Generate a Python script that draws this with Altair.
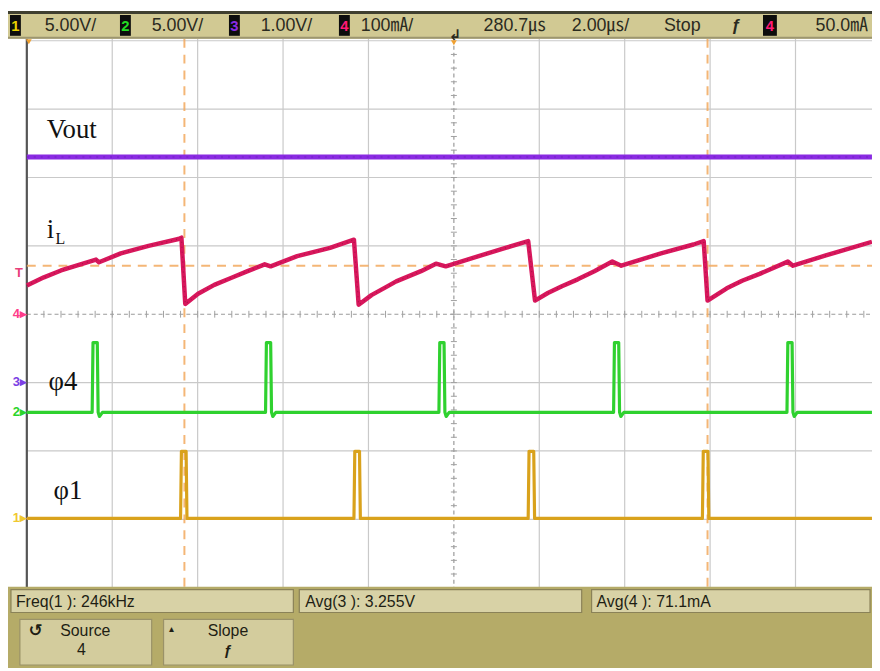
import altair as alt
import pandas as pd

# ---------------- data read from the scope screen ----------------
# time axis in microseconds (2.00 us/div), t = 0 at the left screen edge
vout_t = [0.0, 19.79]
vout_v = [3.30, 3.30]                       # channel 3, 1.00 V/div

il_t = [0.00, 0.40, 0.80, 1.20, 1.62, 1.69, 2.20, 2.85, 3.55, 3.62, 3.71,
        4.01, 4.39, 4.78, 5.17, 5.57, 5.71, 6.33, 7.10, 7.66, 7.77,
        8.07, 8.42, 8.65, 9.23, 9.58, 9.81, 10.58, 11.21, 11.74, 11.90,
        12.20, 12.53, 12.90, 13.29, 13.71, 13.92, 14.85, 15.61, 15.85, 15.94,
        16.39, 16.75, 17.16, 17.82, 17.94, 18.71, 19.79]
il_ma = [42, 54, 64, 72, 80, 76, 89, 100, 110, 112, 15,
         30, 43, 53, 63, 73, 70, 85, 97, 109, 14,
         28, 40, 48, 63, 74, 70, 85, 97, 107, 20,
         31, 41, 51, 63, 77, 71, 89, 102, 107, 20,
         38, 49, 59, 77, 71, 86, 106]          # channel 4, 100 mA/div

phi4_t = [0.0,
          1.53, 1.55, 1.65, 1.67, 1.70, 1.77,
          5.59, 5.61, 5.71, 5.73, 5.76, 5.83,
          9.65, 9.67, 9.77, 9.79, 9.82, 9.89,
          13.74, 13.76, 13.86, 13.88, 13.91, 13.98,
          17.80, 17.82, 17.92, 17.94, 17.97, 18.04,
          19.79]
phi4_v = [0,
          0, 5.1, 5.1, 0, -0.3, 0,
          0, 5.1, 5.1, 0, -0.3, 0,
          0, 5.1, 5.1, 0, -0.3, 0,
          0, 5.1, 5.1, 0, -0.3, 0,
          0, 5.1, 5.1, 0, -0.3, 0,
          0]                                 # channel 2, 5.00 V/div

phi1_t = [0.0, 3.60, 3.62, 3.73, 3.75, 7.66, 7.68, 7.79, 7.81,
          11.74, 11.76, 11.87, 11.89, 15.82, 15.84, 15.95, 15.97, 19.79]
phi1_v = [0, 0, 4.9, 4.9, 0, 0, 4.9, 4.9, 0,
          0, 4.9, 4.9, 0, 0, 4.9, 4.9, 0, 0]  # channel 1, 5.00 V/div

cursor_t = [3.69, 15.94]
cursor_il_ma = 71

ch_scale = {"1": 5.0, "2": 5.0, "3": 1.0, "4": 100.0}
ch_offset = {"1": -2.986, "2": -1.435, "3": -1.0, "4": 0.0}

header_labels = ["5.00V/", "5.00V/", "1.00V/", "100㎃/", "280.7㎲", "2.00㎲/", "Stop", "50.0㎃"]
footer_labels = ["Freq(1 ): 246kHz", "Avg(3 ): 3.255V", "Avg(4 ): 71.1mA"]

# ---------------- layout helpers (screen pixels -> scale units) ----------------
PX_US = 43.1
PX_DIV = 69.0
def tx(px):
    return (px - 27.0) / PX_US
def dv(py):
    return (314.0 - py) / PX_DIV

XS = alt.Scale(domain=[tx(8), tx(880)], nice=False, zero=False)
YS = alt.Scale(domain=[dv(671), dv(8)], nice=False, zero=False)

def enc_xy(**kw):
    e = {"x": alt.X("x:Q", scale=XS, axis=None), "y": alt.Y("y:Q", scale=YS, axis=None)}
    if "x2" in kw:
        e["x2"] = alt.X2("x2:Q")
    if "y2" in kw:
        e["y2"] = alt.Y2("y2:Q")
    return e

def rect_layer(rows, fill, stroke=None, sw=0, opacity=1.0):
    df = pd.DataFrame([{"x": tx(a), "x2": tx(b), "y": dv(c), "y2": dv(d)} for a, b, c, d in rows])
    kw = dict(fill=fill, opacity=opacity)
    if stroke:
        kw.update(stroke=stroke, strokeWidth=sw)
    return alt.Chart(df).mark_rect(**kw).encode(**enc_xy(x2=1, y2=1))

def text_layer(rows, color, size, font="Liberation Sans, Noto Sans CJK JP, sans-serif",
               align="left", baseline="middle", weight="normal"):
    df = pd.DataFrame([{"x": tx(a), "y": dv(b), "s": s} for s, a, b in rows])
    return alt.Chart(df).mark_text(color=color, fontSize=size, font=font, align=align,
                                   baseline=baseline, fontWeight=weight).encode(
        **enc_xy(), text="s:N")

def rule_layer(df, color, width=1.0, dash=None, opacity=1.0):
    kw = dict(color=color, strokeWidth=width, opacity=opacity)
    if dash:
        kw["strokeDash"] = dash
    return alt.Chart(df).mark_rule(**kw).encode(**enc_xy(x2=1, y2=1))

def trace(ts, vs, ch, color, width, dash=None, opacity=1.0):
    df = pd.DataFrame({"x": ts, "y": [ch_offset[ch] + v / ch_scale[ch] for v in vs], "o": range(len(ts))})
    kw = dict(color=color, strokeWidth=width, strokeJoin="round", opacity=opacity)
    if dash:
        kw["strokeDash"] = dash
    return alt.Chart(df).mark_line(**kw).encode(
        x=alt.X("x:Q", scale=XS, axis=None), y=alt.Y("y:Q", scale=YS, axis=None), order="o:Q")

layers = []

# ---------------- graticule ----------------
grid_t = [0, 2, 4, 6, 8, 12, 14, 16, 18]
grid_div = [-4, -3, -2, -1, 1, 2, 3, 4]
vg = pd.DataFrame({"x": grid_t, "x2": grid_t, "y": [dv(36)] * len(grid_t), "y2": [dv(590)] * len(grid_t)})
hg = pd.DataFrame({"x": [tx(27)] * len(grid_div), "x2": [tx(880)] * len(grid_div), "y": grid_div, "y2": grid_div})
layers.append(rule_layer(vg, "#c9c9c9", 1.2))
layers.append(rule_layer(hg, "#c9c9c9", 1.2))
center = pd.DataFrame({"x": [10, tx(27)], "x2": [10, tx(880)], "y": [dv(36), 0], "y2": [dv(590), 0]})
layers.append(rule_layer(center, "#9a9a9a", 1.2, dash=[4, 3]))
tk_t = [i * 0.4 for i in range(1, 50)]
tk_d = [i * 0.2 - 4 for i in range(1, 40)]
ticks = pd.DataFrame(
    [{"x": t, "x2": t, "y": -0.05, "y2": 0.05} for t in tk_t] +
    [{"x": 10 - 0.07, "x2": 10 + 0.07, "y": d, "y2": d} for d in tk_d])
layers.append(rule_layer(ticks, "#a0a0a0", 1.0))
border = pd.DataFrame({"x": [0], "x2": [0], "y": [dv(36)], "y2": [dv(590)]})
layers.append(rule_layer(border, "#555555", 2.2))

# cursors (orange dashed)
cur_v = pd.DataFrame({"x": cursor_t, "x2": cursor_t, "y": [dv(36)] * 2, "y2": [dv(590)] * 2})
layers.append(rule_layer(cur_v, "#f2a95e", 2.0, dash=[9, 7], opacity=0.85))
cy = ch_offset["4"] + cursor_il_ma / ch_scale["4"]
cur_h = pd.DataFrame({"x": [tx(27)], "x2": [tx(880)], "y": [cy], "y2": [cy]})
layers.append(rule_layer(cur_h, "#f2a95e", 2.0, dash=[9, 7], opacity=0.85))

# ---------------- traces ----------------
layers.append(trace(vout_t, vout_v, "3", "#8a2be2", 5))
layers.append(trace(vout_t, vout_v, "3", "#5a1aa0", 1.2, dash=[2, 5], opacity=0.5))
layers.append(trace(il_t, il_ma, "4", "#d8175c", 4.5))
layers.append(trace(il_t, il_ma, "4", "#8e0f3c", 1.2, dash=[1, 4], opacity=0.6))
layers.append(trace(phi4_t, phi4_v, "2", "#2fd12f", 3.2))
layers.append(trace(phi1_t, phi1_v, "1", "#d9a21c", 3.2))

# ---------------- in-plot labels ----------------
serif = "Liberation Serif, Times New Roman, serif"
layers.append(text_layer([("Vout", 47, 136), ("i", 47, 237), ("φ4", 49, 390), ("φ1", 54, 500)],
                         "#111111", 27, font=serif, baseline="alphabetic"))
layers.append(text_layer([("L", 56, 243)], "#111111", 16, font=serif, baseline="alphabetic"))

# channel ground markers
layers.append(text_layer([("T", 19, 272)], "#e8407a", 13, align="center", weight="bold"))
layers.append(text_layer([("4▸", 27, 314)], "#ff3d8a", 13, align="right", weight="bold"))
layers.append(text_layer([("3▸", 27, 382)], "#7b3fe4", 13, align="right", weight="bold"))
layers.append(text_layer([("2▸", 27, 413)], "#2bd42b", 13, align="right", weight="bold"))
layers.append(text_layer([("1▸", 27, 520)], "#f0c830", 13, align="right", weight="bold"))

# ---------------- header bar ----------------
layers.append(rect_layer([(8, 880, 8, 36)], "#d1c993"))
layers.append(rect_layer([(8, 880, 8, 11)], "#3f3f30"))
layers.append(rect_layer([(8, 880, 34, 36)], "#9d9670"))
layers.append(rect_layer([(10, 21, 12, 33), (121, 132, 12, 33), (231, 242, 12, 33),
                          (342, 353, 12, 33), (770, 784, 12, 33)], "#0d0d0d"))
layers.append(text_layer([("1", 15.5, 23)], "#e8d000", 15, align="center", weight="bold"))
layers.append(text_layer([("2", 126.5, 23)], "#22dd22", 15, align="center", weight="bold"))
layers.append(text_layer([("3", 236.5, 23)], "#8a2be2", 15, align="center", weight="bold"))
layers.append(text_layer([("4", 347.5, 23), ("4", 777, 23)], "#ff1a75", 15, align="center", weight="bold"))
hx = [45, 153, 263, 364, 488, 577, 670, 823]
layers.append(text_layer([(s, x, 23) for s, x in zip(header_labels, hx)], "#2b2b1f", 18))
layers.append(text_layer([("ƒ", 743, 23)], "#2b2b1f", 17, align="center", weight="bold"))
layers.append(text_layer([("↲", 459, 32)], "#2b2b1f", 15, align="center",
                         font="DejaVu Sans, sans-serif", weight="bold"))
tri = pd.DataFrame({"x": [tx(29), 10], "y": [dv(39), dv(40)]})
layers.append(alt.Chart(tri).mark_point(shape="triangle-down", filled=True, color="#f0a030", size=35,
                                        opacity=1).encode(**enc_xy()))

# ---------------- footer ----------------
layers.append(rect_layer([(8, 880, 589, 671)], "#b5ab68"))
layers.append(rect_layer([(11, 296, 592, 615), (302, 587, 592, 615), (597, 878, 592, 615)],
                         "#d8d2a6", stroke="#8a8258", sw=1.2))
layers.append(rect_layer([(20, 153, 622, 668), (165, 296, 622, 668)], "#d3cc9d", stroke="#9a9268", sw=1.2))
layers.append(text_layer([(s, x, 604) for s, x in zip(footer_labels, [16, 308, 602])], "#1e1e14", 16))
layers.append(text_layer([("Source", 86, 634), ("4", 82, 653), ("Slope", 230, 634)],
                         "#1e1e14", 16, align="center"))
layers.append(text_layer([("ƒ", 230, 653)], "#1e1e14", 15, align="center", weight="bold"))
layers.append(text_layer([("↺", 36, 634)], "#1e1e14", 17, align="center", font="DejaVu Sans, sans-serif",
                         weight="bold"))
layers.append(text_layer([("▴", 173, 632)], "#1e1e14", 10, align="center", font="DejaVu Sans, sans-serif"))

chart = alt.layer(*layers).properties(
    width=872, height=663,
    autosize=alt.AutoSizeParams(type="none"),
    padding=0,
    background="white",
).configure_view(stroke=None)

chart.save("out.html", embed_options={"renderer": "svg", "actions": False})
